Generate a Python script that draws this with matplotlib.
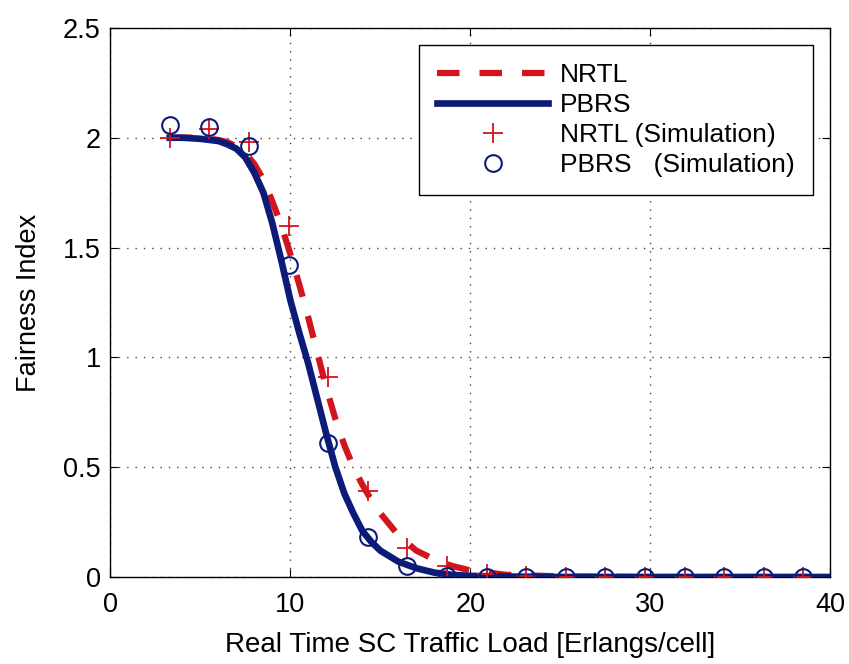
import numpy as np
import matplotlib.pyplot as plt

plt.rcParams['font.family'] = ['Liberation Sans', 'DejaVu Sans']

# analytical curves
nrtl_x = [3.3, 4, 5, 6, 6.5, 7, 7.5, 8, 8.5, 9, 9.5, 10, 10.5, 11, 11.5, 12, 12.5,
          13, 13.5, 14, 14.5, 15, 16, 17, 18, 19, 20, 21, 22, 25, 30, 35, 40]
nrtl_y = [2.0, 2.0, 2.0, 1.99, 1.98, 1.96, 1.93, 1.88, 1.81, 1.71, 1.60, 1.47, 1.33,
          1.18, 1.02, 0.86, 0.72, 0.60, 0.50, 0.42, 0.35, 0.29, 0.19, 0.12, 0.08,
          0.05, 0.03, 0.02, 0.01, 0.003, 0, 0, 0]

pbrs_x = [3.3, 4, 5, 6, 6.5, 7, 7.5, 8, 8.5, 9, 9.5, 10, 10.5, 11, 11.5, 12, 12.5,
          13, 13.5, 14, 14.5, 15, 16, 17, 18, 19, 20, 22, 25, 30, 35, 40]
pbrs_y = [2.0, 2.0, 1.995, 1.985, 1.97, 1.95, 1.91, 1.84, 1.75, 1.61, 1.44, 1.26,
          1.11, 0.97, 0.81, 0.65, 0.50, 0.38, 0.29, 0.21, 0.16, 0.12, 0.07, 0.04,
          0.02, 0.01, 0.005, 0.002, 0, 0, 0, 0]

# simulation points
sim_x = [3.3, 5.5, 7.7, 9.9, 12.1, 14.3, 16.5, 18.7, 20.9, 23.1, 25.3, 27.5,
         29.7, 31.9, 34.1, 36.3, 38.5]
nrtl_sim = [2.0, 2.04, 1.98, 1.60, 0.91, 0.39, 0.13, 0.05, 0.015, 0.003, 0, 0,
            0, 0, 0, 0, 0]
pbrs_sim = [2.06, 2.05, 1.96, 1.42, 0.61, 0.18, 0.05, 0.005, 0.002, 0, 0, 0,
            0, 0, 0, 0, 0]

red = "#d2141c"
navy = "#0c1a78"

fig = plt.figure(figsize=(8.49, 6.64), dpi=100)
ax = fig.add_axes([0.13, 0.131, 0.848, 0.827])

ax.plot(nrtl_x, nrtl_y, color=red, linestyle=(0, (3.6, 3.2)), linewidth=4.5,
        label="NRTL", zorder=3)
ax.plot(pbrs_x, pbrs_y, color=navy, linewidth=4.8, label="PBRS", zorder=4)
ax.plot(sim_x, nrtl_sim, linestyle="none", marker="+", markersize=14,
        markeredgewidth=1.3, color=red, label="NRTL (Simulation)", zorder=5)
ax.plot(sim_x, pbrs_sim, linestyle="none", marker="o", markersize=12,
        markeredgewidth=1.5, markerfacecolor="none", markeredgecolor=navy,
        label="PBRS   (Simulation)", zorder=5)

ax.set_xlim(0, 40)
ax.set_ylim(0, 2.5)
ax.set_xticks([0, 10, 20, 30, 40])
ax.set_yticks([0, 0.5, 1, 1.5, 2, 2.5])
ax.set_yticklabels(["0", "0.5", "1", "1.5", "2", "2.5"])
ax.tick_params(direction="in", top=True, right=True, labelsize=19.5, length=6)
ax.tick_params(axis="x", pad=11)
ax.tick_params(axis="y", pad=7)
ax.grid(True, color="#444444", linestyle=(0, (1, 5)), linewidth=1.0)
for s in ax.spines.values():
    s.set_linewidth(1.0)

ax.set_xlabel("Real Time SC Traffic Load [Erlangs/cell]", fontsize=20, labelpad=10)
ax.set_ylabel("Fairness Index", fontsize=19.5, labelpad=15)

leg = ax.legend(loc="upper right", bbox_to_anchor=(0.976, 0.969), borderaxespad=0,
                fontsize=19, handlelength=4.2, handletextpad=0.45,
                fancybox=False, framealpha=1, edgecolor="black",
                borderpad=0.7, labelspacing=0.22)
leg.get_frame().set_linewidth(1.0)

plt.savefig("out.png", dpi=100)
plt.close()
